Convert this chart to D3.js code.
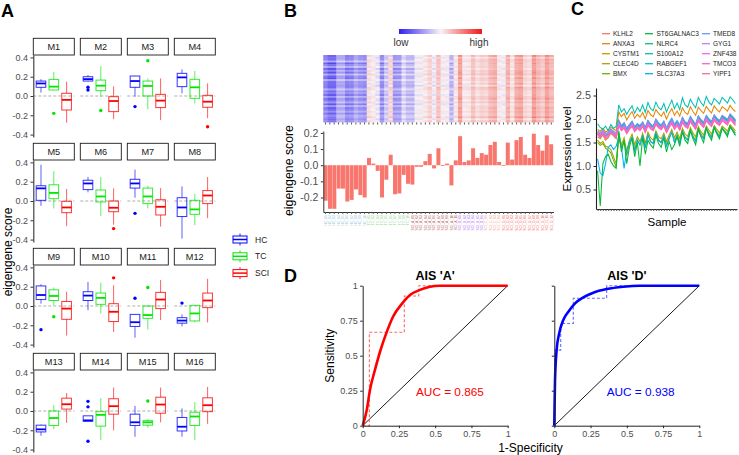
<!DOCTYPE html>
<html><head><meta charset="utf-8">
<script src="https://cdn.jsdelivr.net/npm/d3@7"></script>
<style>body{margin:0;background:#fff}svg{display:block;font-family:"Liberation Sans",Arial,Helvetica,sans-serif}</style>
</head><body><svg id="chart" width="739" height="455"></svg>
<script>
// ================= DATA =================
// ---- Panel A: module eigengene boxplots [lowWhisker, q1, median, q3, highWhisker]
const modules = ["M1","M2","M3","M4","M5","M6","M7","M8","M9","M10","M11","M12","M13","M14","M15","M16"];
const groups = ["HC","TC","SCI"];
const boxHC = [
  [0.035,0.09,0.13,0.155,0.175],[0.15,0.155,0.175,0.2,0.218],[-0.007,0.09,0.155,0.207,0.21],[0.028,0.097,0.193,0.235,0.276],
  [-0.05,0.007,0.131,0.158,0.376],[0.09,0.118,0.182,0.215,0.249],[0.034,0.134,0.182,0.225,0.326],[-0.39,-0.161,-0.067,0.034,0.151],
  [0.024,0.067,0.114,0.208,0.225],[-0.044,0.057,0.108,0.148,0.249],[-0.329,-0.212,-0.168,-0.087,-0.087],[-0.212,-0.178,-0.151,-0.121,-0.087],
  [-0.257,-0.217,-0.19,-0.147,-0.14],[-0.107,-0.107,-0.097,-0.05,-0.05],[-0.267,-0.15,-0.117,-0.033,0.053],[-0.267,-0.207,-0.163,-0.067,0.027]];
const boxTC = [
  [0.06,0.062,0.097,0.172,0.25],[-0.01,0.055,0.107,0.165,0.31],[-0.138,0.0,0.104,0.155,0.183],[-0.076,-0.024,0.09,0.173,0.259],
  [-0.077,0.024,0.084,0.168,0.309],[-0.155,-0.01,0.047,0.114,0.249],[-0.077,-0.027,0.047,0.134,0.158],[-0.25,-0.138,-0.087,0.007,0.074],
  [0.007,0.057,0.104,0.168,0.192],[-0.077,0.017,0.084,0.134,0.242],[-0.245,-0.128,-0.094,0.0,0.007],[-0.171,-0.155,-0.077,0.007,0.007],
  [-0.19,-0.15,-0.073,0.0,0.06],[-0.3,-0.157,-0.04,-0.007,0.133],[-0.173,-0.147,-0.117,-0.1,-0.08],[-0.3,-0.15,-0.057,-0.013,0.093]];
const boxSCI = [
  [-0.277,-0.145,-0.04,0.028,0.148],[-0.24,-0.162,-0.052,-0.007,0.1],[-0.25,-0.12,-0.048,0.017,0.183],[-0.23,-0.117,-0.059,0.007,0.131],
  [-0.26,-0.121,-0.067,-0.003,0.124],[-0.245,-0.111,-0.07,0.0,0.131],[-0.265,-0.145,-0.06,0.013,0.134],[-0.178,-0.027,0.057,0.108,0.249],
  [-0.306,-0.138,-0.027,0.047,0.148],[-0.269,-0.161,-0.06,0.024,0.215],[-0.145,-0.027,0.067,0.141,0.269],[-0.171,-0.017,0.057,0.134,0.282],
  [-0.123,0.02,0.07,0.133,0.187],[-0.2,-0.033,0.05,0.127,0.243],[-0.117,-0.023,0.067,0.143,0.243],[-0.133,-0.007,0.06,0.137,0.25]];
const outHC = [[],[0.09,0.062],[-0.11],[],[],[],[-0.128],[],[-0.245],[],[0.081],[0.03],[],[0.1,0.043,-0.313],[],[]];
const outTC = [[-0.18],[-0.15],[0.366],[],[],[],[],[],[-0.111],[],[0.192],[],[],[],[0.103],[]];
const outSCI = [[],[],[],[-0.318],[],[-0.286],[],[],[],[0.292],[],[],[],[],[],[]];
const aTicks = [-0.4,-0.2,0.0,0.2,0.4];

// ---- Panel B: per-sample eigengene score
const sampleScores = [-0.22,-0.27,-0.27,-0.145,-0.145,-0.225,-0.215,-0.15,-0.185,-0.2,
  0.045,0.01,-0.035,-0.2,-0.09,0.065,-0.18,-0.175,-0.06,-0.115,
  -0.12,-0.01,-0.01,0.025,0.07,-0.02,0.105,-0.005,0.01,-0.125,
  0.03,0.18,0.02,0.03,0.105,0.045,0.075,0.065,0.125,0.145,
  0.02,-0.005,0.14,0.035,0.155,0.175,0.065,0.045,0.195,0.125,
  0.09,0.185,0.13];
const sampleGroupNames = ["HC","TC","A","B","C","D"];
const sampleGroupSizes = [10,10,11,6,4,12];
const bTicks = [-0.2,-0.1,0.0,0.1,0.2];
const hmRowLoading = [1.2,0.9,1.1,0.7,1.3,1.0,0.8,1.15,0.95,1.25,0.85,1.05,1.3,0.75,1.0,1.1,0.9,1.2,0.8,1.05,0.95,1.15,0.85,1.25,1.0,0.9,1.1,0.8,1.2,1.0,0.9,1.1,0.85,1.15,0.95,1.05];
const hmRowShift = [0.02,-0.03,0.01,0.04,-0.02,0.0,0.03,-0.04,0.02,-0.01,0.05,-0.03,0.0,0.03,-0.02,0.01,-0.05,0.02,0.04,-0.01,0.0,-0.03,0.03,0.01,-0.02,0.04,-0.04,0.02,0.0,-0.01,0.03,-0.02,0.01,0.05,-0.03,0.02];

// ---- Panel C: hub gene expression per sample
const genes = ["KLHL2","ANXA3","CYSTM1","CLEC4D","BMX","ST6GALNAC3","NLRC4","S100A12","RABGEF1","SLC37A3","TMED8","GYG1","ZNF438","TMCO3","YIPF1"];
const geneColors = ["#F8766D","#E58700","#C99800","#A3A500","#6BB100","#00BA38","#00BF7D","#00C0AF","#00BCD8","#00B0F6","#619CFF","#B983FF","#E76BF3","#FD61D1","#FF67A4"];
const exprKLHL2 = [1.72,1.68,1.75,1.70,1.66,1.78,1.74,1.70,1.98,1.85,1.92,1.80,1.88,1.95,1.84,1.90,1.86,1.93,1.82,1.96,1.88,1.85,1.99,1.90,1.87,1.94,1.80,1.92,2.00,1.89,1.95,1.86,2.02,1.93,1.90,2.04,1.95,1.88,2.06,1.97,1.92,2.05,1.99,1.94,2.08,2.00,1.95,2.06,2.02,1.98,2.10,2.03,1.97];
const exprANXA3 = [1.78,1.74,1.80,1.72,1.76,1.82,1.79,1.75,2.15,2.05,2.12,1.98,2.08,2.16,2.02,2.10,2.04,2.14,2.00,2.18,2.09,2.05,2.20,2.12,2.06,2.15,2.00,2.13,2.22,2.08,2.17,2.06,2.24,2.14,2.10,2.26,2.16,2.08,2.25,2.18,2.12,2.27,2.19,2.13,2.28,2.20,2.15,2.26,2.22,2.17,2.29,2.21,2.16];
const exprCYSTM1 = [1.62,1.58,1.66,1.55,1.60,1.70,1.64,1.58,1.95,1.82,1.90,1.74,1.86,1.93,1.80,1.88,1.83,1.92,1.78,1.95,1.87,1.82,1.98,1.89,1.84,1.93,1.78,1.90,1.99,1.86,1.94,1.84,2.01,1.92,1.88,2.03,1.94,1.86,2.04,1.96,1.90,2.05,1.98,1.92,2.06,1.99,1.94,2.05,2.01,1.96,2.08,2.02,1.95];
const exprCLEC4D = [1.55,1.48,1.52,1.42,1.40,1.35,1.20,1.05,1.70,1.45,1.60,1.30,1.55,1.68,1.45,1.62,1.52,1.70,1.48,1.72,1.60,1.55,1.75,1.62,1.58,1.70,1.52,1.66,1.78,1.60,1.72,1.58,1.80,1.68,1.63,1.82,1.70,1.62,1.84,1.73,1.66,1.85,1.76,1.68,1.86,1.78,1.70,1.85,1.80,1.74,1.88,1.82,1.75];
const exprBMX = [1.50,1.44,1.48,1.38,1.34,1.28,1.12,0.98,1.62,1.38,1.52,1.22,1.48,1.60,1.36,1.55,1.45,1.64,1.40,1.66,1.52,1.48,1.70,1.55,1.50,1.64,1.44,1.60,1.72,1.52,1.66,1.50,1.75,1.62,1.56,1.78,1.64,1.55,1.80,1.68,1.60,1.82,1.70,1.62,1.83,1.72,1.64,1.82,1.75,1.68,1.85,1.78,1.70];
const exprST6GALNAC3 = [0.90,0.15,1.05,1.20,1.25,1.10,1.00,0.95,1.75,1.30,1.55,1.05,1.40,1.60,1.20,1.50,1.00,1.62,1.25,1.55,1.45,1.38,1.65,1.48,1.40,1.60,1.30,1.52,1.35,1.45,1.62,1.42,1.72,1.55,1.48,1.75,1.58,1.45,1.78,1.62,1.50,1.80,1.65,1.55,1.82,1.68,1.58,1.80,1.72,1.62,1.85,1.75,1.65];
const exprNLRC4 = [1.70,1.66,1.72,1.64,1.68,1.74,1.70,1.65,1.95,1.84,1.90,1.78,1.86,1.94,1.82,1.89,1.84,1.92,1.80,1.96,1.88,1.83,1.98,1.90,1.85,1.94,1.79,1.91,2.00,1.87,1.95,1.85,2.02,1.92,1.89,2.04,1.95,1.87,2.05,1.97,1.91,2.06,1.99,1.93,2.07,2.00,1.95,2.06,2.02,1.97,2.09,2.03,1.96];
const exprS100A12 = [1.90,1.82,1.78,1.85,1.75,1.88,1.80,1.84,2.30,2.15,2.22,2.10,2.20,2.28,2.12,2.25,2.16,2.30,2.14,2.35,2.22,2.18,2.36,2.24,2.20,2.33,2.15,2.28,2.40,2.22,2.34,2.20,2.45,2.30,2.25,2.42,2.32,2.24,2.46,2.35,2.28,2.48,2.36,2.30,2.44,2.38,2.32,2.46,2.40,2.34,2.47,2.41,2.33];
const exprRABGEF1 = [1.68,1.64,1.70,1.62,1.66,1.72,1.68,1.63,1.92,1.80,1.88,1.75,1.84,1.91,1.79,1.86,1.81,1.90,1.77,1.93,1.85,1.80,1.96,1.87,1.82,1.91,1.76,1.88,1.97,1.84,1.92,1.82,1.99,1.90,1.86,2.01,1.92,1.84,2.02,1.94,1.88,2.03,1.96,1.90,2.04,1.97,1.92,2.03,1.99,1.94,2.06,2.00,1.93];
const exprSLC37A3 = [1.15,0.85,0.80,1.05,1.40,1.45,1.35,1.42,1.60,1.40,0.95,1.35,1.50,1.62,1.30,1.55,1.45,1.65,1.38,1.66,1.52,1.48,1.70,1.55,1.50,1.64,1.42,1.58,1.72,1.50,1.64,1.48,1.74,1.60,1.55,1.76,1.62,1.52,1.78,1.65,1.58,1.80,1.68,1.60,1.82,1.70,1.62,1.80,1.72,1.66,1.82,1.75,1.66];
const exprTMED8 = [1.75,1.70,1.76,1.68,1.72,1.78,1.74,1.69,1.96,1.86,1.92,1.80,1.88,1.95,1.83,1.90,1.86,1.94,1.82,1.97,1.89,1.85,2.00,1.92,1.87,1.96,1.81,1.93,2.02,1.89,1.97,1.87,2.04,1.94,1.91,2.06,1.97,1.89,2.07,1.99,1.93,2.08,2.01,1.95,2.09,2.02,1.97,2.08,2.04,1.99,2.11,2.05,1.98];
const exprGYG1 = [1.72,1.67,1.74,1.66,1.70,1.76,1.72,1.67,1.90,1.80,1.86,1.74,1.83,1.90,1.78,1.85,1.80,1.89,1.76,1.92,1.84,1.80,1.94,1.86,1.82,1.90,1.76,1.87,1.96,1.83,1.91,1.81,1.98,1.89,1.85,2.00,1.91,1.83,2.01,1.93,1.87,2.02,1.95,1.89,2.03,1.96,1.91,2.02,1.98,1.93,2.05,1.99,1.92];
const exprZNF438 = [1.65,1.60,1.68,1.58,1.62,1.70,1.66,1.60,1.86,1.76,1.82,1.70,1.79,1.86,1.74,1.81,1.76,1.85,1.72,1.88,1.80,1.76,1.90,1.82,1.78,1.86,1.72,1.83,1.92,1.79,1.87,1.77,1.94,1.85,1.81,1.96,1.87,1.79,1.97,1.89,1.83,1.98,1.91,1.85,1.99,1.92,1.87,1.98,1.94,1.89,2.01,1.95,1.88];
const exprTMCO3 = [1.70,1.64,1.71,1.62,1.67,1.73,1.69,1.64,1.88,1.78,1.84,1.72,1.81,1.88,1.76,1.83,1.78,1.87,1.74,1.90,1.82,1.78,1.92,1.84,1.80,1.88,1.74,1.85,1.94,1.81,1.89,1.79,1.96,1.87,1.83,1.98,1.89,1.81,1.99,1.91,1.85,2.00,1.93,1.87,2.01,1.94,1.89,2.00,1.96,1.91,2.03,1.97,1.90];
const exprYIPF1 = [1.68,1.62,1.69,1.60,1.65,1.71,1.67,1.62,1.85,1.75,1.80,1.69,1.78,1.84,1.73,1.80,1.75,1.84,1.71,1.86,1.79,1.75,1.88,1.81,1.77,1.85,1.71,1.82,1.90,1.78,1.86,1.76,1.92,1.84,1.80,1.94,1.86,1.78,1.95,1.88,1.82,1.96,1.89,1.84,1.97,1.90,1.86,1.96,1.92,1.87,1.99,1.93,1.86];
const cTicks = [0.5,1.0,1.5,2.0,2.5];

// ---- Panel D: ROC curves (smoothed + empirical)
const rocA_fpr = [0,0.028,0.05,0.085,0.12,0.166,0.21,0.27,0.326,0.395,0.464,0.53,0.6,0.7,0.8,0.9,1];
const rocA_tpr = [0,0.112,0.255,0.4,0.53,0.67,0.78,0.87,0.933,0.97,0.993,1,1,1,1,1,1];
const stepA_fpr = [0,0.046,0.046,0.287,0.287,0.387,0.387,1];
const stepA_tpr = [0,0,0.667,0.667,0.926,0.926,1,1];
const rocD_fpr = [0,0.002,0.005,0.016,0.034,0.062,0.097,0.143,0.2,0.269,0.361,0.476,0.59,0.7,0.8,0.9,1];
const rocD_tpr = [0,0.15,0.326,0.54,0.66,0.755,0.814,0.874,0.917,0.95,0.976,0.993,1,1,1,1,1];
const stepD_fpr = [0,0.005,0.005,0.044,0.044,0.131,0.131,0.361,0.361,1];
const stepD_tpr = [0,0,0.54,0.54,0.73,0.73,0.91,0.91,1,1];
const rocTicks = [0,0.25,0.5,0.75,1];
const aucA = "AUC = 0.865", aucD = "AUC = 0.938";

// ================= DRAW =================
const svg = d3.select("#chart");
svg.append("rect").attr("width",739).attr("height",455).attr("fill","#fff");
const hy = s => s.replace("\u2212","-");
function styleAxis(g, fs, col){
  g.selectAll("text").attr("fill","#4d4d4d").style("font-size",fs+"px");
  g.selectAll("line").attr("stroke",col||"#333");
  g.select(".domain").attr("stroke",col||"#333");
}
function label(x,y,s,opt){
  const t = svg.append("text").attr("x",x).attr("y",y).text(s)
    .style("font-size",(opt.size||10)+"px").attr("fill",opt.fill||"#000")
    .attr("text-anchor",opt.anchor||"start");
  if(opt.bold) t.style("font-weight","bold");
  if(opt.rotate) t.attr("transform",`rotate(-90,${x},${y})`);
  return t;
}
// panel letters
label(1,17,"A",{size:18,bold:true});
label(284,17,"B",{size:18,bold:true});
label(571,15,"C",{size:18,bold:true});
label(284,282,"D",{size:18,bold:true});

// ---------- Panel A ----------
const gColor = {HC:"#0000FF",TC:"#00E600",SCI:"#FF0000"};
const boxData = {HC:boxHC,TC:boxTC,SCI:boxSCI};
const outData = {HC:outHC,TC:outTC,SCI:outSCI};
modules.forEach((m,k)=>{
  const r = Math.floor(k/4), c = k%4;
  const left = 33.3 + c*47, w = 41;
  const stripTop = 38.3 + r*105, stripH = 16.7, top = stripTop+stripH, h = 82;
  const y = d3.scaleLinear().domain([-0.425,0.425]).range([top+h,top]);
  const x = d3.scalePoint().domain(groups).range([left,left+w]).padding(0.6);
  const bw = x.step()*0.75;
  const g = svg.append("g");
  g.append("rect").attr("x",left).attr("y",stripTop).attr("width",w).attr("height",stripH)
    .attr("fill","#fff").attr("stroke","#1a1a1a").attr("stroke-width",0.9);
  g.append("text").attr("x",left+w/2).attr("y",stripTop+stripH/2+3.3).attr("text-anchor","middle")
    .style("font-size","9.2px").attr("fill","#1a1a1a").text(m);
  g.append("line").attr("x1",left).attr("x2",left+w).attr("y1",y(0)).attr("y2",y(0))
    .attr("stroke","#a6a6a6").attr("stroke-width",0.9).attr("stroke-dasharray","3,2");
  groups.forEach(gr=>{
    const [lo,q1,md,q3,hi] = boxData[gr][k];
    const cx = x(gr), col = gColor[gr];
    const bg = g.append("g").attr("stroke",col).attr("fill","none");
    bg.append("line").attr("x1",cx).attr("x2",cx).attr("y1",y(q3)).attr("y2",y(hi)).attr("stroke-width",0.9).attr("stroke-opacity",0.7);
    bg.append("line").attr("x1",cx).attr("x2",cx).attr("y1",y(q1)).attr("y2",y(lo)).attr("stroke-width",0.9).attr("stroke-opacity",0.7);
    bg.append("rect").attr("x",cx-bw/2).attr("y",y(q3)).attr("width",bw).attr("height",Math.max(0.5,y(q1)-y(q3))).attr("stroke-width",1).attr("stroke-opacity",0.8);
    bg.append("line").attr("x1",cx-bw/2).attr("x2",cx+bw/2).attr("y1",y(md)).attr("y2",y(md)).attr("stroke-width",1.8);
    outData[gr][k].forEach(v=>{
      g.append("circle").attr("cx",cx).attr("cy",y(v)).attr("r",1.7).attr("fill",col);
    });
  });
  if(c===0){
    const ax = g.append("g").attr("transform",`translate(${left},0)`)
      .call(d3.axisLeft(y).tickValues(aTicks).tickFormat(d=>hy(d3.format(".1f")(d))).tickSize(2.8).tickSizeOuter(0).tickPadding(2.5));
    styleAxis(ax,9,"#333");
    ax.select(".domain").attr("stroke-width",1.1);
  }
});
label(12,252,"eigengene score",{size:12,anchor:"middle",rotate:true});
// legend A
groups.forEach((gr,i)=>{
  const cy = 239.5 + i*16.8, col = gColor[gr];
  const lg = svg.append("g").attr("stroke",col).attr("fill","none");
  lg.append("line").attr("x1",240).attr("x2",240).attr("y1",cy-6).attr("y2",cy+6).attr("stroke-width",0.9);
  lg.append("rect").attr("x",233).attr("y",cy-3.5).attr("width",14).attr("height",7).attr("fill","#fff").attr("stroke-width",1);
  lg.append("line").attr("x1",233).attr("x2",247).attr("y1",cy).attr("y2",cy).attr("stroke-width",1.5);
  label(255,cy+3,gr,{size:8.5,fill:"#1a1a1a"});
});

// ---------- Panel B ----------
const nS = sampleScores.length;
const sampleGroup = [];
sampleGroupNames.forEach((gname,gi)=>{ for(let i=0;i<sampleGroupSizes[gi];i++) sampleGroup.push(gname); });
const sampleNames = [];
const cnt = {};
sampleGroup.forEach(gname=>{ cnt[gname]=(cnt[gname]||0)+1; sampleNames.push((gname.length>1?gname:"SCI_"+gname)+"_"+String(cnt[gname]).padStart(2,"0")); });
const labColor = {HC:"#9cc8de",TC:"#93d893",A:"#b55d5d",B:"#b06ef2",C:"#f3a292",D:"#ef6b6b"};
const bx = d3.scaleBand().domain(d3.range(nS)).range([323.3,553.5]).padding(0.08);
const hmX = d3.scaleBand().domain(d3.range(nS)).range([323.3,553.5]);
const hmY = d3.scaleBand().domain(d3.range(hmRowLoading.length)).range([55,122]);
const hmColor = d3.scaleLinear().domain([-0.42,0,0.42]).range(["#3a2cf0","#f8f3f6","#f03a2a"]).clamp(true);
const hm = svg.append("g");
hmRowLoading.forEach((ld,ri)=>{
  sampleScores.forEach((s,ci)=>{
    hm.append("rect").attr("x",hmX(ci)).attr("y",hmY(ri)).attr("width",hmX.bandwidth()+0.4).attr("height",hmY.bandwidth()+0.4)
      .attr("fill",hmColor(s*ld+hmRowShift[ri]));
  });
});
const hmAx = svg.append("g").attr("transform","translate(0,122.5)").call(d3.axisBottom(hmX).tickSize(2).tickFormat(""));
hmAx.select(".domain").remove(); hmAx.selectAll("line").attr("stroke","#555");
// color bar
const defs = svg.append("defs");
const grad = defs.append("linearGradient").attr("id","cbar");
[["0%","#3020f0"],["50%","#f8f3f6"],["100%","#f01818"]].forEach(([o,c])=>grad.append("stop").attr("offset",o).attr("stop-color",c));
svg.append("rect").attr("x",399).attr("y",29).attr("width",83).attr("height",5).attr("fill","url(#cbar)");
label(401,45.5,"low",{size:10,anchor:"middle",fill:"#333"});
label(479,45.5,"high",{size:10,anchor:"middle",fill:"#333"});
// bars
const by = d3.scaleLinear().domain([-0.29,0.212]).range([212,131]);
svg.append("g").selectAll("rect").data(sampleScores).join("rect")
  .attr("x",(d,i)=>bx(i)).attr("width",bx.bandwidth())
  .attr("y",d=>by(Math.max(0,d))).attr("height",d=>Math.abs(by(d)-by(0)))
  .attr("fill","#F8766D");
const byAx = svg.append("g").attr("transform","translate(323.3,0)")
  .call(d3.axisLeft(by).tickValues(bTicks).tickFormat(d=>hy(d3.format(".1f")(d))).tickSize(2.5).tickSizeOuter(0).tickPadding(2.5));
styleAxis(byAx,10.5,"#333");
const bxAx = svg.append("g").attr("transform","translate(0,212)")
  .call(d3.axisBottom(hmX).tickSize(2).tickSizeOuter(0).tickFormat(""));
bxAx.selectAll("line").attr("stroke","#555"); bxAx.select(".domain").attr("stroke","#333");
svg.append("g").selectAll("text").data(sampleNames).join("text")
  .attr("transform",(d,i)=>`translate(${hmX(i)+hmX.bandwidth()/2+1.2},215) rotate(-90)`)
  .attr("text-anchor","end").style("font-size","3.4px").attr("fill",(d,i)=>labColor[sampleGroup[i]]).text(d=>d);
label(293,170.5,"eigengene score",{size:12.3,anchor:"middle",rotate:true});

// ---------- Panel C ----------
const exprSeries = [exprKLHL2,exprANXA3,exprCYSTM1,exprCLEC4D,exprBMX,exprST6GALNAC3,exprNLRC4,exprS100A12,exprRABGEF1,exprSLC37A3,exprTMED8,exprGYG1,exprZNF438,exprTMCO3,exprYIPF1];
const nC = exprKLHL2.length;
const cx = d3.scalePoint().domain(d3.range(nC)).range([596,737]).padding(0.6);
const cy = d3.scaleLinear().domain([0.085,2.66]).range([209,88]);
const cLine = d3.line().x((d,i)=>cx(i)).y(d=>cy(d));
const drawOrder = [0,1,2,3,4,6,8,10,11,12,13,14,7,9,5];
drawOrder.forEach(gi=>{
  svg.append("path").datum(exprSeries[gi]).attr("d",cLine).attr("fill","none")
    .attr("stroke",geneColors[gi]).attr("stroke-width",1.05);
});
const cyAx = svg.append("g").attr("transform","translate(596,0)")
  .call(d3.axisLeft(cy).tickValues(cTicks).tickFormat(d3.format(".1f")).tickSize(2.5).tickSizeOuter(0).tickPadding(2.5));
styleAxis(cyAx,10.8,"#222"); cyAx.select(".domain").attr("stroke-width",1.1);
const cxAx = svg.append("g").attr("transform","translate(0,209)")
  .call(d3.axisBottom(cx).tickSize(2).tickSizeOuter(0).tickFormat(""));
cxAx.selectAll("line").attr("stroke","#555"); cxAx.select(".domain").attr("stroke","#222").attr("stroke-width",1.1);
label(667,226,"Sample",{size:11.5,anchor:"middle"});
label(571,149,"Expression level",{size:11.7,anchor:"middle",rotate:true});
// legend C
genes.forEach((gname,i)=>{
  const col = Math.floor(i/5), row = i%5;
  const lx = [602,645,702][col], tx = [613,656.5,713][col];
  const ly = 33.7 + row*10;
  svg.append("line").attr("x1",lx).attr("x2",lx+8).attr("y1",ly).attr("y2",ly).attr("stroke",geneColors[i]).attr("stroke-width",1.3);
  label(tx,ly+2.3,gname,{size:6.5,fill:"#222"});
});

// ---------- Panel D ----------
function rocPlot(x0, fpr, tpr, sfpr, stpr, col, dashCol, title, auc, aucX, showY){
  const x = d3.scaleLinear().domain([0,1]).range([x0,x0+145]);
  const y = d3.scaleLinear().domain([0,1]).range([425.7,285.7]);
  const g = svg.append("g");
  g.append("line").attr("x1",x(0)).attr("y1",y(0)).attr("x2",x(1)).attr("y2",y(1)).attr("stroke","#000").attr("stroke-width",0.9);
  const pts = (a,b)=>a.map((v,i)=>[v,b[i]]);
  g.append("path").datum(pts(sfpr,stpr)).attr("d",d3.line().x(d=>x(d[0])).y(d=>y(d[1])))
    .attr("fill","none").attr("stroke",dashCol).attr("stroke-width",1.1).attr("stroke-dasharray","3,2");
  g.append("path").datum(pts(fpr,tpr)).attr("d",d3.line().curve(d3.curveMonotoneX).x(d=>x(d[0])).y(d=>y(d[1])))
    .attr("fill","none").attr("stroke",col).attr("stroke-width",2.6).attr("stroke-linejoin","round");
  const fmt = d=>String(d);
  const xa = g.append("g").attr("transform",`translate(0,${y(0)})`)
    .call(d3.axisBottom(x).tickValues(rocTicks).tickFormat(fmt).tickSize(2.5).tickSizeOuter(0).tickPadding(2));
  styleAxis(xa,9,"#222");
  const ya = g.append("g").attr("transform",`translate(${x(0)},0)`)
    .call(d3.axisLeft(y).tickValues(rocTicks).tickFormat(showY?fmt:"").tickSize(2.5).tickSizeOuter(0).tickPadding(2.5));
  styleAxis(ya,9,"#222");
  label((x(0)+x(1))/2,279.5,title,{size:12.5,bold:true,anchor:"middle"});
  label(aucX,395.5,auc,{size:11.8,fill:col});
}
rocPlot(362.7, rocA_fpr, rocA_tpr, stepA_fpr, stepA_tpr, "#FF0000", "#FF6a6a", "AIS 'A'", aucA, 416, true);
rocPlot(554.3, rocD_fpr, rocD_tpr, stepD_fpr, stepD_tpr, "#0000FF", "#6a6aff", "AIS 'D'", aucD, 606.7, false);
label(334,355.7,"Sensitivity",{size:12,anchor:"middle",rotate:true});
label(530.5,452,"1-Specificity",{size:12,anchor:"middle"});
</script></body></html>
